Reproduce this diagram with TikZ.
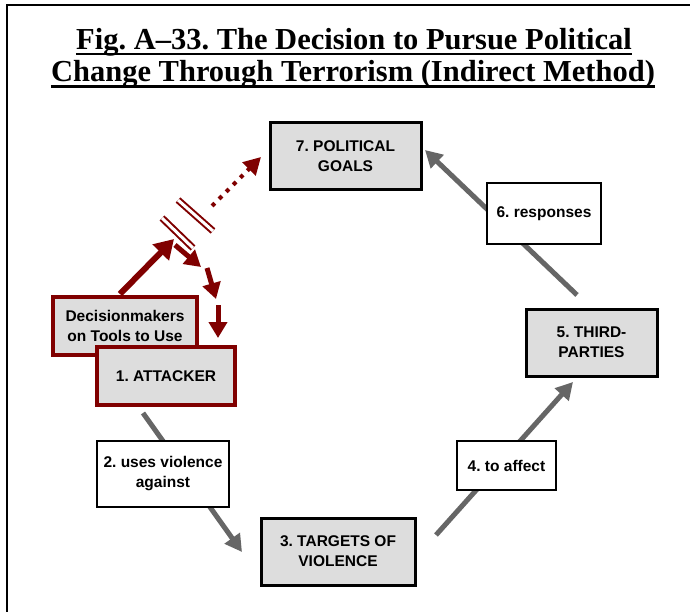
\documentclass[tikz,border=0pt]{standalone}
\usepackage{fontspec}
\setmainfont{Liberation Serif}
\newfontfamily\arial{Liberation Sans}
\usetikzlibrary{arrows.meta}
\frenchspacing
\definecolor{maroon}{HTML}{800000}
\definecolor{boxgray}{HTML}{DDDDDD}
\definecolor{arrgray}{HTML}{666666}
\tikzset{
  mainbox/.style={draw=black, line width=3pt, fill=boxgray, align=center, inner sep=0pt,
    font=\arial\bfseries\fontsize{15.5}{20}\selectfont},
  redbox/.style={draw=maroon, line width=4pt, fill=boxgray, align=center, inner sep=0pt,
    font=\arial\bfseries\fontsize{15.5}{20}\selectfont},
  labbox/.style={draw=black, line width=1.3pt, fill=white, align=center, inner sep=0pt,
    font=\arial\bfseries\fontsize{15.5}{20}\selectfont},
  grayarrow/.style={draw=arrgray, line width=5pt, -{Triangle[length=17pt,width=18pt]}},
  redarrow/.style={draw=maroon, line width=6pt, -{Triangle[length=19pt,width=22pt]}},
  smallred/.style={draw=maroon, line width=5pt, -{Triangle[length=16pt,width=18pt]}},
  dotarrow/.style={draw=maroon, line width=4pt, dash pattern=on 4pt off 6pt,
    -{Triangle[length=17pt,width=18pt]}},
  strip/.style={draw=maroon, line width=2pt, double=white, double distance=3pt},
  titlefont/.style={font=\bfseries\fontsize{30.5}{33}\selectfont, inner sep=0pt, anchor=base}
}
\begin{document}
\begin{tikzpicture}[x=1pt, y=-1pt]
\useasboundingbox (0,0) rectangle (690,612);
\clip (0,0) rectangle (690,612);
\fill[white] (0,0) rectangle (690,612);
% frame
\draw[line width=2.2pt, black] (7,5) rectangle (720,640);
% title
\node[titlefont] (t1) at (354,50) {Fig. A--33. The Decision to Pursue Political};
\node[titlefont] (t2) at (353,82) {Change Through Terrorism (Indirect Method)};
\draw[line width=2.2pt] ([yshift=-4pt]t1.base west) -- ([yshift=-4pt]t1.base east);
\draw[line width=2.2pt] ([yshift=-4.5pt]t2.base west) -- ([yshift=-4.5pt]t2.base east);

% coordinates for arrow ends
\coordinate (a2s) at (143,413);
\coordinate (a2e) at (242,552);
\coordinate (a4s) at (436,535);
\coordinate (a4e) at (573,382);
\coordinate (a6s) at (577,295);
\coordinate (a6e) at (425,150);

% gray arrows
\draw[grayarrow] (a2s) -- (a2e);
\draw[grayarrow] (a4s) -- (a4e);
\draw[grayarrow] (a6s) -- (a6e);

% main boxes
\node[mainbox, minimum width=151pt, minimum height=67pt] (pol) at (345.5,156.5) {7. POLITICAL\\GOALS};
\node[mainbox, minimum width=131pt, minimum height=67pt] (third) at (591.5,342.5) {5. THIRD-\\PARTIES};
\node[mainbox, minimum width=154pt, minimum height=67pt] (targ) at (338,551.5) {3. TARGETS OF\\VIOLENCE};

% label boxes
\node[labbox, minimum width=132pt, minimum height=66pt] (l2) at (163,474) {2. uses violence\\against};
\node[labbox, minimum width=99pt, minimum height=49pt] (l4) at (506.5,465.5) {4. to affect};
\node[labbox, minimum width=114pt, minimum height=61pt] (l6) at (544,213.5) {6. responses};

% decision makers and attacker
\node[redbox, minimum width=144pt, minimum height=58pt] (dec) at (125,326) {Decisionmakers\\on Tools to Use};
\node[redbox, minimum width=138pt, minimum height=58pt] (att) at (166,376) {1. ATTACKER};

% maroon arrows
\coordinate (r1s) at (120,294);
\coordinate (r1e) at (174,239);
\draw[redarrow] (r1s) -- (r1e);

\coordinate (s1a) at (162,218);
\coordinate (s1b) at (193,248);
\coordinate (s2a) at (178,200);
\coordinate (s2b) at (213,231);
\draw[strip] (s1a) -- (s1b);
\draw[strip] (s2a) -- (s2b);

\coordinate (d1s) at (212,206);
\coordinate (d1e) at (261,157);
\draw[dotarrow] (d1s) -- (d1e);

\coordinate (m1s) at (175,245);
\coordinate (m1e) at (201,267);
\coordinate (m2s) at (207,268);
\coordinate (m2e) at (216,299);
\coordinate (m3s) at (218,305);
\coordinate (m3e) at (218,338);
\draw[smallred] (m1s) -- (m1e);
\draw[smallred] (m2s) -- (m2e);
\draw[smallred] (m3s) -- (m3e);
\end{tikzpicture}
\end{document}
